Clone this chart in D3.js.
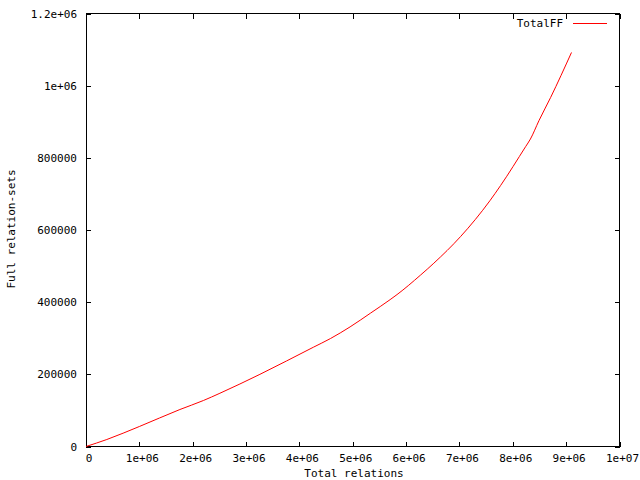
<!DOCTYPE html>
<html><head><meta charset="utf-8">
<script src="https://cdn.jsdelivr.net/npm/d3@7"></script>
<style>body{margin:0;background:#fff}svg{display:block}text{font-family:"DejaVu Sans Mono",monospace;font-size:11px;fill:#000}</style>
</head><body>
<script>
const totalRelations = [0, 0.39e6, 1.0e6, 1.76e6, 2.2e6, 2.51e6, 3.26e6, 4.26e6, 4.58e6, 4.95e6, 5.33e6, 5.70e6, 5.83e6, 6.27e6, 6.52e6, 7.02e6, 7.30e6, 7.57e6, 7.77e6, 8.24e6, 8.33e6, 8.49e6, 8.71e6, 9.10e6];
const totalFF = [0, 19400, 55400, 102500, 127400, 147600, 200000, 275000, 299000, 331500, 369300, 407000, 421000, 475000, 508000, 581700, 629600, 681000, 723000, 831000, 852000, 903000, 967600, 1092000];
const xTicks = [0, 1e6, 2e6, 3e6, 4e6, 5e6, 6e6, 7e6, 8e6, 9e6, 1e7];
const xTickLabels = ["0", "1e+06", "2e+06", "3e+06", "4e+06", "5e+06", "6e+06", "7e+06", "8e+06", "9e+06", "1e+07"];
const yTicks = [0, 200000, 400000, 600000, 800000, 1000000, 1200000];
const yTickLabels = ["0", "200000", "400000", "600000", "800000", "1e+06", "1.2e+06"];
const seriesName = "TotalFF";
const xTitle = "Total relations";
const yTitle = "Full relation-sets";

const W = 640, H = 480;
const L = 86, R = 619.5, T = 13.5, B = 446.5;
const svg = d3.select("body").append("svg").attr("width", W).attr("height", H);
const x = d3.scaleLinear().domain([0, 1e7]).range([L, R]);
const y = d3.scaleLinear().domain([0, 1.2e6]).range([B, T]);
const tl = 5;

const g = svg.append("g").attr("shape-rendering", "crispEdges");
xTicks.forEach(v => {
  const px = Math.round(x(v)) + 0.5;
  g.append("line").attr("x1", px).attr("x2", px).attr("y1", B).attr("y2", B - tl).attr("stroke", "#000");
  g.append("line").attr("x1", px).attr("x2", px).attr("y1", T).attr("y2", T + tl).attr("stroke", "#000");
});
yTicks.forEach(v => {
  const py = Math.round(y(v)) + 0.5;
  g.append("line").attr("x1", L).attr("x2", L + tl).attr("y1", py).attr("y2", py).attr("stroke", "#000");
  g.append("line").attr("x1", R).attr("x2", R - tl).attr("y1", py).attr("y2", py).attr("stroke", "#000");
});
g.append("rect").attr("x", L + 0.5).attr("y", T).attr("width", R - L - 0.5).attr("height", B - T).attr("fill", "none").attr("stroke", "#000");

xTicks.forEach((v, i) => {
  svg.append("text").attr("x", x(v) + 3).attr("y", 462).attr("text-anchor", "middle").text(xTickLabels[i]);
});
yTicks.forEach((v, i) => {
  svg.append("text").attr("x", 77).attr("y", y(v) + 4).attr("text-anchor", "end").text(yTickLabels[i]);
});
svg.append("text").attr("x", 354).attr("y", 477).attr("text-anchor", "middle").text(xTitle);
svg.append("text").attr("transform", "translate(15,229) rotate(-90)").attr("text-anchor", "middle").text(yTitle);

svg.append("text").attr("x", 563).attr("y", 27).attr("text-anchor", "end").text(seriesName);
svg.append("line").attr("x1", 573).attr("x2", 607).attr("y1", 23.5).attr("y2", 23.5).attr("stroke", "#f00").attr("shape-rendering", "crispEdges");

const data = totalRelations.map((v, i) => [v, totalFF[i]]);
svg.append("path").datum(data)
  .attr("d", d3.line().x(d => x(d[0])).y(d => y(d[1])).curve(d3.curveMonotoneX))
  .attr("fill", "none").attr("stroke", "#f00").attr("stroke-width", 1);
</script>
</body></html>
